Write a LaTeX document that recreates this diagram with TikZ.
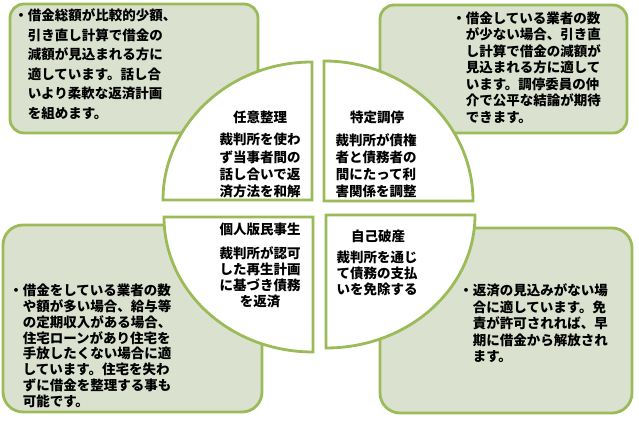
\documentclass[tikz,border=0pt]{standalone}
\usepackage{fontspec}
\newfontfamily\jp{Noto Sans CJK JP}
\usetikzlibrary{calc}
\definecolor{leafline}{RGB}{155,187,89}
\definecolor{leaffill}{RGB}{218,225,207}

\begin{document}
\begin{tikzpicture}[x=1pt,y=1pt,
    notebox/.style={draw=leafline,line width=2.8pt,fill=leaffill,rectangle,rounded corners=#1},
    wedge/.style={draw=leafline,line width=2.8pt,fill=white},
    notetext/.style={font=\jp\bfseries\fontsize{13.5}{#1}\selectfont,align=left,anchor=north west,inner sep=0pt},
    wedgetitle/.style={font=\jp\bfseries\fontsize{13.5}{16}\selectfont,inner sep=0pt},
    wedgetext/.style={font=\jp\bfseries\fontsize{13.5}{#1}\selectfont,align=center,anchor=north,inner sep=0pt}]
      \useasboundingbox (0,0) rectangle (639,420);
      \draw (134,351.5) node [notebox=14,minimum width=248pt,minimum height=129pt] (nini) {}
        ($(nini.north west)+(19,-6)$) node [notetext=19.5] (ninitext)
        {\llap{・}借金総額が比較的少額、\\引き直し計算で借金の\\減額が見込まれる方に\\適しています。話し合\\いより柔軟な返済計画\\を組めます。};
      \draw (503.5,351) node [notebox=14,minimum width=247pt,minimum height=128pt] (tokutei) {}
        ($(tokutei.north west)+(87,-8)$) node [notetext=16.5] (tokuteitext)
        {\llap{・}借金している業者の数\\が少ない場合、引き直\\し計算で借金の減額が\\見込まれる方に適して\\います。調停委員の仲\\介で公平な結論が期待\\できます。};
      \draw (132.5,101.5) node [notebox=20,minimum width=259pt,minimum height=187pt] (kojin) {}
        ($(kojin.north west)+(21,-60)$) node [notetext=15.9] (kojintext)
        {\llap{・}借金をしている業者の数\\や額が多い場合、給与等\\の定期収入がある場合、\\住宅ローンがあり住宅を\\手放したくない場合に適\\しています。住宅を失わ\\ずに借金を整理する事も\\可能です。};
      \draw (506,99.5) node [notebox=20,minimum width=252pt,minimum height=185pt] (jiko) {}
        ($(jiko.north west)+(94,-57)$) node [notetext=16.5] (jikotext)
        {\llap{・}返済の見込みがない場\\合に適しています。免\\責が許可されれば、早\\期に借金から解放され\\ます。};
      \draw[wedge] (312,220) coordinate (niniw) -- ++(0,138)
        arc[start angle=90,end angle=180,x radius=149,y radius=138] -- cycle;
      \draw[wedge] (324,219) coordinate (tokuteiw) -- ++(0,140)
        arc[start angle=90,end angle=0,x radius=149,y radius=140] -- cycle;
      \draw[wedge] (313,203) coordinate (kojinw) -- ++(0,-135)
        arc[start angle=270,end angle=180,x radius=149,y radius=135] -- cycle;
      \draw[wedge] (326,205) coordinate (jikow) -- ++(0,-133)
        arc[start angle=270,end angle=360,x radius=149,y radius=133] -- cycle;
      \draw ($(niniw)+(-52,83)$) node [wedgetitle] (ninititle) {任意整理}
        ($(niniw)+(-52,67)$) node [wedgetext=17.3] (ninibody) {裁判所を使わ\\ず当事者間の\\話し合いで返\\済方法を和解};
      \draw ($(tokuteiw)+(53,84)$) node [wedgetitle] (tokuteititle) {特定調停}
        ($(tokuteiw)+(52,68)$) node [wedgetext=17.3] (tokuteibody) {裁判所が債権\\者と債務者の\\間にたって利\\害関係を調整};
      \draw ($(kojinw)+(-53,-12)$) node [wedgetitle] (kojintitle) {個人版民事生}
        ($(kojinw)+(-53,-29)$) node [wedgetext=16] (kojinbody) {裁判所が認可\\した再生計画\\に基づき債務\\を返済};
      \draw ($(jikow)+(52,-21)$) node [wedgetitle] (jikotitle) {自己破産}
        ($(jikow)+(51,-36)$) node [wedgetext=16] (jikobody) {裁判所を通じ\\て債務の支払\\いを免除する};
    \end{tikzpicture}
\end{document}
